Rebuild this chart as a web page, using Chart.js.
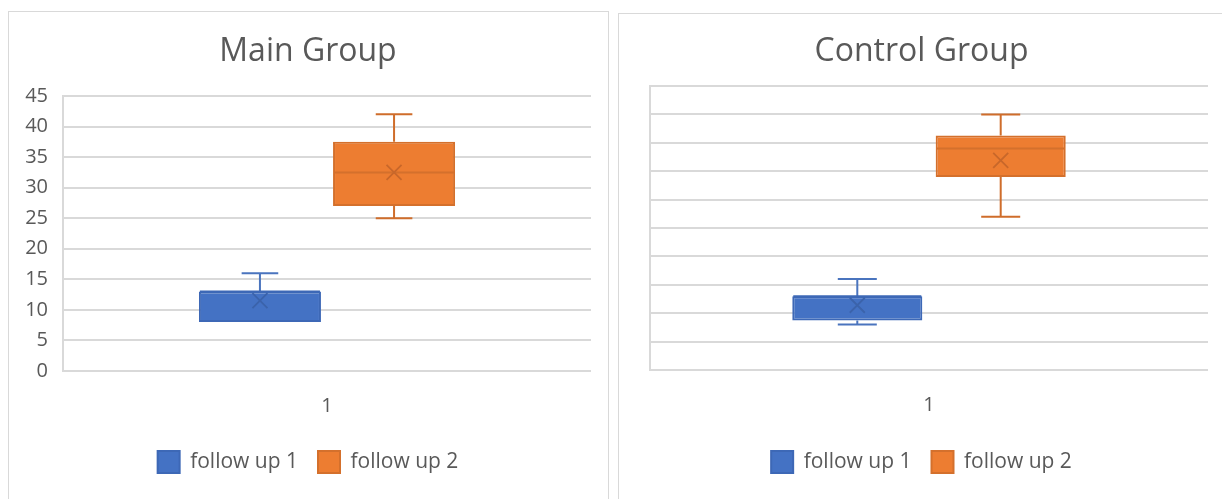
<!DOCTYPE html>
<html>
<head>
<meta charset="utf-8">
<title>Follow-up box plots</title>
<script src="https://cdn.jsdelivr.net/npm/chart.js@4/dist/chart.umd.min.js"></script>
<style>
  html, body { margin: 0; padding: 0; background: #ffffff; overflow: hidden; width: 1222px; height: 499px; }
  .panel { position: absolute; border: 1px solid #d9d9d9; background: #ffffff; box-sizing: border-box; }
  .wrap { position: absolute; }
</style>
</head>
<body>
<div class="panel" style="left:8px; top:11px; width:601px; height:520px;"></div>
<div class="panel" style="left:618px; top:13px; width:640px; height:520px;"></div>
<div class="wrap" style="left:9px; top:12px; width:598px; height:487px;"><canvas id="mainChart"></canvas></div>
<div class="wrap" style="left:619px; top:14px; width:603px; height:485px;"><canvas id="controlChart"></canvas></div>
<script>
// Category and series names
const categories = ['1'];
const seriesNames = ['follow up 1', 'follow up 2'];

// Main Group: five-number summary and mean for each follow-up
const mainMin    = [8, 25];
const mainQ1     = [8, 27];
const mainMedian = [13, 32.5];
const mainQ3     = [13, 37.5];
const mainMax    = [16, 42];
const mainMean   = [11.5, 32.5];
const mainYTicks = [0, 5, 10, 15, 20, 25, 30, 35, 40, 45];

// Control Group: five-number summary and mean for each follow-up
const ctrlMin    = [8, 27];
const ctrlQ1     = [8.7, 34];
const ctrlMedian = [13, 39];
const ctrlQ3     = [13, 41.3];
const ctrlMax    = [16, 45];
const ctrlMean   = [11.4, 36.9];
const ctrlYTicks = [0, 5, 10, 15, 20, 25, 30, 35, 40, 45, 50];

const fillColors   = ['#4472C4', '#ED7D31'];
const borderColors = ['#3D68B6', '#D4702C'];
const lineColors   = ['#4A74BE', '#CF6D2B'];
const markColors   = ['#3B63AB', '#C8672A'];
const textColor = '#595959';
const gridColor = '#d9d9d9';
const FONT = "'Open Sans', sans-serif";

// Whiskers, caps, median line and mean cross drawn on top of the floating bars
const boxWhiskers = {
  id: 'boxWhiskers',
  afterDatasetsDraw(chart) {
    const ctx = chart.ctx;
    const y = chart.scales.y;
    chart.data.datasets.forEach((ds, i) => {
      const meta = chart.getDatasetMeta(i);
      const st = ds.stats;
      meta.data.forEach((bar, j) => {
        const props = bar.getProps(['x', 'width'], true);
        const cx = props.x;
        const w = props.width;
        const capHalf = w * 0.15;
        const pMin = y.getPixelForValue(st.min[j]);
        const pQ1 = y.getPixelForValue(st.q1[j]);
        const pMed = y.getPixelForValue(st.median[j]);
        const pQ3 = y.getPixelForValue(st.q3[j]);
        const pMax = y.getPixelForValue(st.max[j]);
        const pMean = y.getPixelForValue(st.mean[j]);
        ctx.save();
        ctx.strokeStyle = ds.whiskerColor;
        ctx.lineWidth = 2;
        ctx.beginPath();
        // upper whisker and cap
        ctx.moveTo(cx, pQ3); ctx.lineTo(cx, pMax);
        ctx.moveTo(cx - capHalf, pMax); ctx.lineTo(cx + capHalf, pMax);
        // lower whisker and cap
        if (st.min[j] < st.q1[j]) {
          ctx.moveTo(cx, pQ1); ctx.lineTo(cx, pMin);
          ctx.moveTo(cx - capHalf, pMin); ctx.lineTo(cx + capHalf, pMin);
        }
        ctx.stroke();
        // median
        ctx.strokeStyle = ds.borderColor;
        ctx.beginPath();
        ctx.moveTo(cx - w / 2 + 1, pMed); ctx.lineTo(cx + w / 2 - 1, pMed);
        ctx.stroke();
        // mean marker
        const r = 7.5;
        ctx.strokeStyle = ds.markColor;
        ctx.lineWidth = 1.8;
        ctx.beginPath();
        ctx.moveTo(cx - r, pMean - r); ctx.lineTo(cx + r, pMean + r);
        ctx.moveTo(cx + r, pMean - r); ctx.lineTo(cx - r, pMean + r);
        ctx.stroke();
        ctx.restore();
      });
    });
  }
};

function makeChart(canvasId, cfg) {
  const stats = (k) => ({
    min: [cfg.min[k]], q1: [cfg.q1[k]], median: [cfg.median[k]],
    q3: [cfg.q3[k]], max: [cfg.max[k]], mean: [cfg.mean[k]]
  });
  const datasets = seriesNames.map((name, k) => ({
    label: name,
    data: categories.map(() => [cfg.q1[k], cfg.q3[k]]),
    backgroundColor: fillColors[k],
    borderColor: borderColors[k],
    borderWidth: 2,
    borderSkipped: false,
    whiskerColor: lineColors[k],
    markColor: markColors[k],
    stats: stats(k),
    barPercentage: cfg.barPct,
    categoryPercentage: cfg.catPct
  }));
  return new Chart(document.getElementById(canvasId), {
    type: 'bar',
    data: { labels: categories, datasets },
    plugins: [boxWhiskers],
    options: {
      responsive: true,
      maintainAspectRatio: false,
      animation: false,
      events: [],
      layout: { padding: { left: cfg.padLeft, right: cfg.padRight, top: 0, bottom: cfg.padBottom } },
      plugins: {
        tooltip: { enabled: false },
        title: {
          display: true,
          text: cfg.title,
          color: textColor,
          font: { family: FONT, size: 32, weight: 'normal', lineHeight: 1.2 },
          padding: { top: cfg.titleTop, bottom: cfg.titleBottom }
        },
        legend: {
          display: true,
          position: 'bottom',
          labels: {
            color: textColor,
            font: { family: FONT, size: 21 },
            boxWidth: 22,
            boxHeight: 22,
            padding: 20
          }
        }
      },
      scales: {
        x: {
          grid: { display: false, drawTicks: false },
          border: { display: false },
          ticks: { color: textColor, font: { family: FONT, size: 20 }, padding: 23 },
          afterFit(s) { s.height = cfg.xHeight; s.paddingLeft = 0; s.paddingRight = 0; }
        },
        y: {
          min: cfg.ticks[0],
          max: cfg.ticks[cfg.ticks.length - 1],
          grid: { color: gridColor, lineWidth: 2, drawTicks: false },
          border: { display: true, color: gridColor, width: 2 },
          ticks: {
            display: cfg.showTicks,
            stepSize: cfg.ticks[1] - cfg.ticks[0],
            color: textColor,
            font: { family: FONT, size: 20 },
            padding: 15
          },
          afterFit(s) { s.width = cfg.yWidth; s.paddingTop = 0; s.paddingBottom = 0; }
        }
      }
    }
  });
}

makeChart('mainChart', {
  title: 'Main Group',
  min: mainMin, q1: mainQ1, median: mainMedian, q3: mainQ3, max: mainMax, mean: mainMean,
  ticks: mainYTicks, showTicks: true,
  padLeft: 16, padRight: 16, padBottom: 16,
  titleTop: 20.8, titleBottom: 24.8,
  yWidth: 38, xHeight: 60,
  barPct: 0.91, catPct: 0.508
});

makeChart('controlChart', {
  title: 'Control Group',
  min: ctrlMin, q1: ctrlQ1, median: ctrlMedian, q3: ctrlQ3, max: ctrlMax, mean: ctrlMean,
  ticks: ctrlYTicks, showTicks: false,
  padLeft: 16, padRight: 14, padBottom: 16,
  titleTop: 18.8, titleBottom: 14.8,
  yWidth: 15, xHeight: 61,
  barPct: 0.907, catPct: 0.514
});
</script>
</body>
</html>
